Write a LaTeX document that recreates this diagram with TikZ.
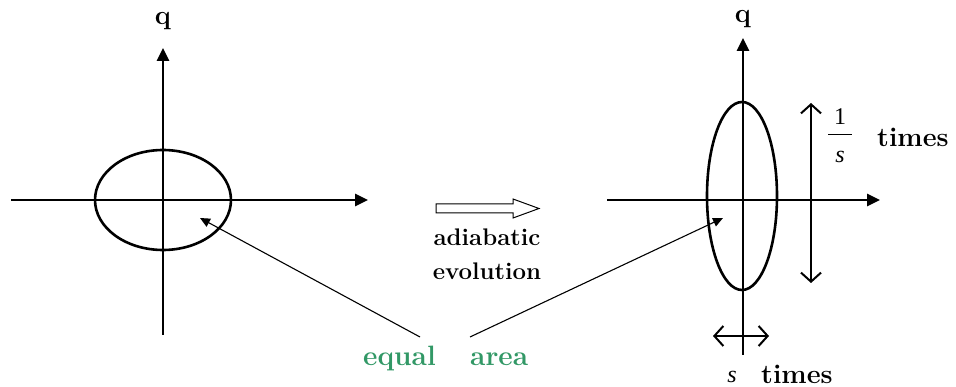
\documentclass[tikz,border=0pt]{standalone}
\usepackage{fontspec}
\newfontfamily\factorfont{Liberation Serif}
\usetikzlibrary{arrows.meta}
\definecolor{areagreen}{RGB}{50,152,102}

\begin{document}
\begin{tikzpicture}[x = 1pt, y = -1pt,
    axis/.style = {line width = 2.6pt, -{Triangle[length = 13pt, width = 12pt]}},
    orbit/.style = {line width = 2.6pt},
    pointer/.style = {line width = 1.1pt, -{Triangle[length = 10pt, width = 9pt]}},
    scaling/.style = {line width = 2pt,
        {Straight Barb[length = 9pt, width = 20pt]}-{Straight Barb[length = 9pt, width = 20pt]}},
    word/.style = {font = \fontsize{24}{28}\selectfont\bfseries, inner sep = 0pt},
    bigword/.style = {font = \fontsize{27}{32}\selectfont\bfseries, inner sep = 0pt},
    factor/.style = {font = \fontsize{24}{28}\selectfont\factorfont, inner sep = 0pt}]
    \useasboundingbox (0, 0) rectangle (956, 387);
    % phase space before
    \coordinate (o1) at (163, 200);
    \coordinate (p1l) at (11, 200);
    \coordinate (p1r) at (368, 200);
    \coordinate (q1b) at (163, 335);
    \coordinate (q1t) at (163, 48);
    \node [bigword, anchor = base] (q1) at (163, 25) {q};
    \draw [axis] (p1l) -- (p1r);
    \draw [axis] (q1b) -- (q1t);
    \draw [orbit] (o1) ellipse [x radius = 68, y radius = 50];
    % adiabatic evolution
    \draw [line width = 1pt] (436, 204) -- (513, 204) -- (513, 199) -- (539, 208.5)
        -- (513, 218) -- (513, 213) -- (436, 213) -- cycle;
    \node [word, anchor = base] (adia) at (487, 246) {adiabatic};
    \node [word, anchor = base] (evol) at (487, 280) {evolution};
    % phase space after
    \coordinate (o2) at (742, 196);
    \coordinate (p2l) at (607, 200);
    \coordinate (p2r) at (880, 200);
    \coordinate (q2b) at (743, 355);
    \coordinate (q2t) at (743, 38);
    \node [bigword, anchor = base] (q2) at (743, 23) {q};
    \draw [axis] (p2l) -- (p2r);
    \draw [axis] (q2b) -- (q2t);
    \draw [orbit] (o2) ellipse [x radius = 35, y radius = 94];
    % scaling factors
    \coordinate (vt) at (811, 103);
    \coordinate (vb) at (811, 283);
    \coordinate (hl) at (713, 336);
    \coordinate (hr) at (769, 336);
    \draw [scaling] (vb) -- (vt);
    \draw [scaling] (hl) -- (hr);
    \node [factor, anchor = base] (one) at (840, 125) {1};
    \node [factor, anchor = base] (den) at (840, 163) {\itshape s};
    \coordinate (barl) at (828, 134);
    \coordinate (barr) at (852, 134);
    \draw [line width = 0.9pt] (barl) -- (barr);
    \node [bigword, anchor = base west] (times1) at (877, 147) {times};
    \node [factor, anchor = base] (sfac) at (732, 382) {\itshape s};
    \node [bigword, anchor = base west] (times2) at (761, 383) {times};
    % equal area
    \node [bigword, anchor = base west, text = areagreen, font = \fontsize{28}{32}\selectfont\bfseries] (equal) at (363, 366) {equal};
    \node [bigword, anchor = base west, text = areagreen, font = \fontsize{28}{32}\selectfont\bfseries] (area) at (470, 366) {area};
    \coordinate (e1) at (420, 337);
    \coordinate (e2) at (470, 337);
    \coordinate (in1) at (200, 218);
    \coordinate (in2) at (723, 218);
    \draw [pointer] (e1) -- (in1);
    \draw [pointer] (e2) -- (in2);
\end{tikzpicture}
\end{document}
